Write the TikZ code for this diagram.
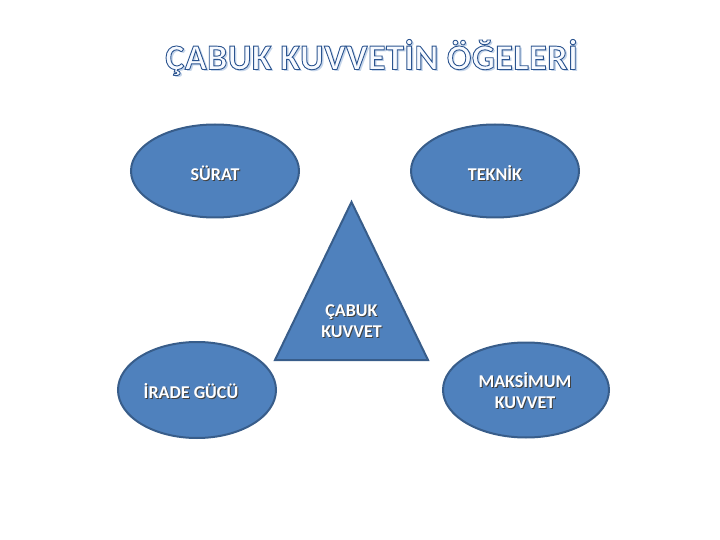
\documentclass[tikz,border=0pt]{standalone}
\usepackage{fontspec}
\setmainfont{Carlito}
\newfontfamily\titlefont[LetterSpace=1.5]{Carlito}
\usetikzlibrary{shapes.geometric}
\definecolor{fillblue}{HTML}{4F81BD}
\definecolor{edgeblue}{HTML}{385D8A}
\definecolor{shadowblue}{HTML}{C5D5EA}
\newcommand\outlinetext[1]{\special{pdf:literal direct 0.9 w 0.97 0.98 1 rg 0.17 0.33 0.56 RG 2 Tr}#1\special{pdf:literal direct 0 Tr 0 0 0 rg 0 0 0 RG}}
\tikzset{
  oval/.style={ellipse, draw=edgeblue, fill=fillblue, line width=2pt, inner sep=0pt},
  lbl/.style={text=white, font=\bfseries\fontsize{18}{21}\selectfont, align=center, inner sep=0pt},
  lblsh/.style={text=black!75, font=\bfseries\fontsize{18}{21}\selectfont, align=center, inner sep=0pt},
  ttl/.style={font=\titlefont\bfseries\fontsize{36}{42}\selectfont, inner sep=0pt}
}
\begin{document}
\begin{tikzpicture}[x=1pt, y=-1pt]
\useasboundingbox (0,0) rectangle (720,540);
% title
\node[ttl, text=shadowblue] at (373.5,59.5) {ÇABUK KUVVETİN ÖĞELERİ};
\node[ttl] (title) at (371.5,57.5) {\outlinetext{ÇABUK KUVVETİN ÖĞELERİ}};
% ellipses
\node[oval, minimum width=168pt, minimum height=93pt] (surat) at (215,171) {};
\node[oval, minimum width=168pt, minimum height=93pt] (teknik) at (495,171) {};
\node[oval, minimum width=158pt, minimum height=96pt] (irade) at (197,390) {};
\node[oval, minimum width=166pt, minimum height=95pt] (maks) at (526,390) {};
% triangle
\coordinate (ta) at (351.5,202);
\coordinate (tl) at (275,360);
\coordinate (tr) at (428,360);
\draw[draw=edgeblue, fill=fillblue, line width=2pt, line join=miter] (ta) -- (tr) -- (tl) -- cycle;
% labels
\node[lblsh] at (216,174) {SÜRAT};
\node[lbl] (lsurat) at (215,173) {SÜRAT};
\node[lblsh] at (496,174) {TEKNİK};
\node[lbl] (lteknik) at (495,173) {TEKNİK};
\node[lblsh] at (352.5,322) {ÇABUK\\KUVVET};
\node[lbl] (lcabuk) at (351.5,321) {ÇABUK\\KUVVET};
\node[lblsh] at (192,392) {İRADE GÜCÜ};
\node[lbl] (lirade) at (191,391) {İRADE GÜCÜ};
\node[lblsh] at (526,392) {MAKSİMUM\\KUVVET};
\node[lbl] (lmaks) at (525,391) {MAKSİMUM\\KUVVET};
\end{tikzpicture}
\end{document}
